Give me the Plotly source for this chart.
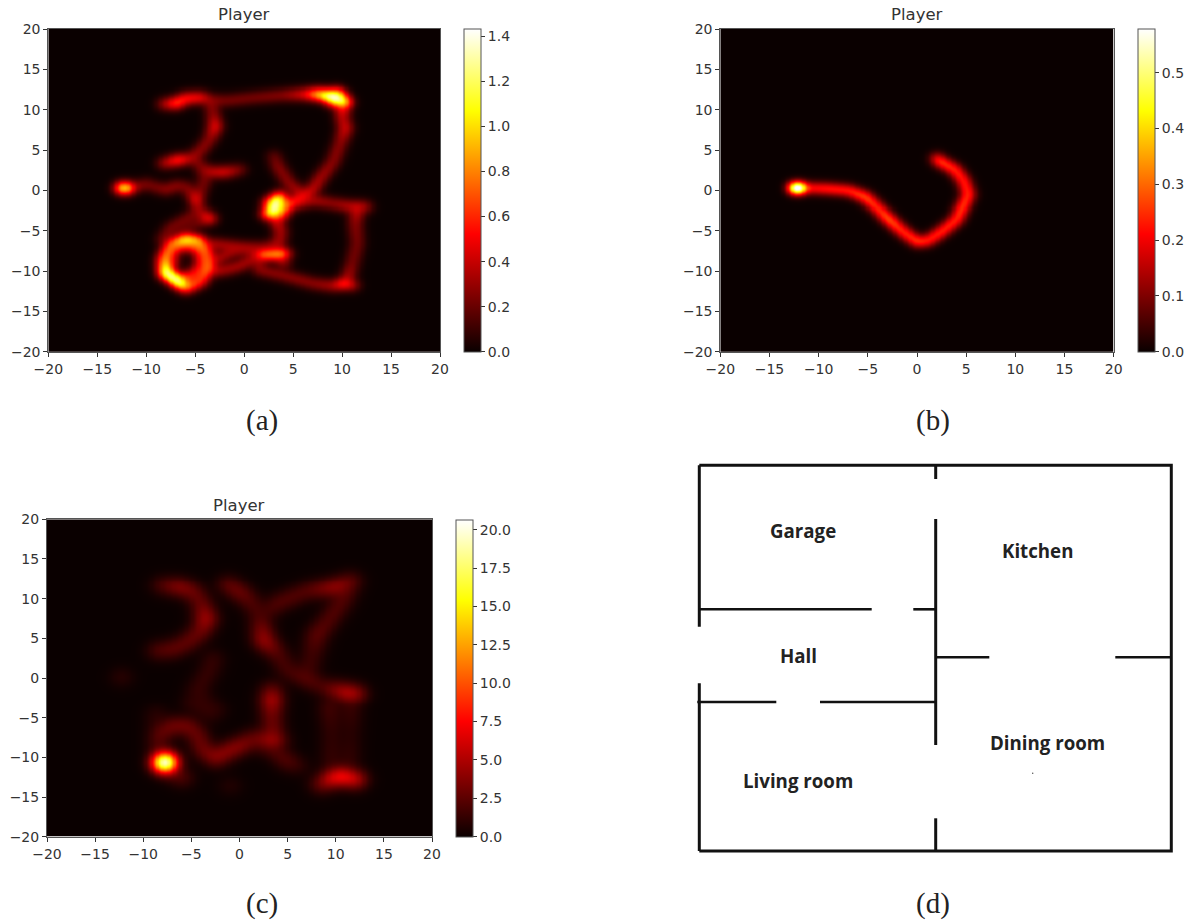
import numpy as np
import plotly.graph_objects as go

W, H = 1198, 923
TICKS = [-20, -15, -10, -5, 0, 5, 10, 15, 20]
TITLE = "Player"
CAPTIONS = ["(a)", "(b)", "(c)", "(d)"]
ZMAX_A, ZMAX_B, ZMAX_C = 1.434, 0.579, 20.65
CBAR_TICKS_A = [0.0, 0.2, 0.4, 0.6, 0.8, 1.0, 1.2, 1.4]
CBAR_TICKS_B = [0.0, 0.1, 0.2, 0.3, 0.4, 0.5]
CBAR_TICKS_C = [0.0, 2.5, 5.0, 7.5, 10.0, 12.5, 15.0, 17.5, 20.0]

# Each track: (x, y, density) read along the ridges of the picture
TRACKS_A = [
    [(-8.2,10.8,.3),(-7,10.9,.62),(-6,11.5,.5),(-4.5,11.6,.45),(-3.5,11.3,.25),(-2,11.2,.21),(1,11.6,.21),(4,11.9,.24),(6,12,.4),(7.5,12,.85),(9,11.7,1.38),(10,11.2,1.1)],
    [(8,11.9,.75),(9.5,12,.95),(10.2,11,1.0),(9,11.2,.85)],
    [(10,11.2,.6),(10,9,.34),(10.3,7.8,.4),(9.8,6,.25),(9,3.5,.25),(7.7,1.5,.3),(7,0.2,.34),(6,-0.7,.45),(4.5,-1.8,.55),(3,-2.4,1.1)],
    [(3,4.3,.17),(3.4,3,.24),(4.5,1,.25),(5.8,-.5,.34)],
    [(-3.5,11.3,.25),(-3.2,9.5,.25),(-3,8,.45),(-3.5,6.5,.25),(-4.5,5,.25),(-5.5,4,.3),(-6.8,3.8,.55),(-8.2,3.4,.3)],
    [(-5,3.8,.25),(-4.5,3,.21),(-3.5,2.3,.34),(-2,2.3,.4),(-.5,2.6,.21)],
    [(-4.5,3,.21),(-4,1.5,.21),(-4.5,0,.21),(-5,-1,.45),(-4.7,-2.5,.25),(-3.6,-3.4,.5)],
    [(-12.5,.3,1.0),(-12,.3,1.0)],
    [(-12,.3,.45),(-11,.5,.25),(-10,.8,.21),(-9,.4,.21),(-8,.1,.25),(-7,.6,.25),(-6,.5,.21),(-5,-1,.34)],
    [(-4.7,-2.5,.21),(-6,-3.5,.21),(-7.5,-4.5,.21),(-8.3,-6,.21)],
    [(-3.6,-3.4,.34),(-5,-4,.17),(-7,-5.5,.17)],
    [(-6,-6,1.0),(-7.5,-6.6,.65),(-8.2,-8.5,.75),(-8,-10.2,1.25),(-6.5,-11.5,1.2),(-6,-12,.7),(-4.5,-11.2,.55),(-3.7,-9.5,.7),(-3.8,-7.8,.6),(-4.7,-6.2,.8),(-6,-6,1.0)],
    [(-7.5,-9,.45),(-7.5,-7.4,.5),(-6,-6.6,.6),(-4.5,-7.3,.55),(-4.4,-9.2,.45),(-5.3,-10.6,.5),(-6.5,-10.8,.6)],
    [(-4.5,-6.5,.34),(-3,-6.6,.3),(0,-7,.3),(2,-7,.25)],
    [(-3.2,-8.8,.3),(-1.5,-7.6,.3),(0,-7.3,.25),(1.3,-7.8,.34)],
    [(-3.5,-10,.34),(-2,-9.8,.3),(-.5,-9.3,.3),(.7,-8.5,.3),(2,-8,.34)],
    [(1.8,-7.9,.7),(3.8,-7.8,.8),(4.2,-7.8,.4)],
    [(2,-7,.25),(3.5,-6.5,.3),(3.7,-5,.3),(3.2,-3.5,.4),(2.8,-2.5,1.25),(3.3,-1.2,1.2)],
    [(2.4,-2.8,.8),(3.6,-3,.65),(4.2,-2,.7),(3.6,-.8,.75),(2.6,-1.6,.8)],
    [(3.6,-8,.45),(4,-9,.25)],
    [(1.5,-8,.3),(1.5,-9.8,.25),(4,-10.5,.25),(7,-11.5,.25),(9,-11.8,.3),(10.2,-11.5,.6),(11,-11.7,.34)],
    [(11.5,-2,.4),(11.3,-4,.25),(11.5,-6.5,.21),(11,-9,.21),(10.4,-11.3,.34)],
    [(4.5,-1.8,.34),(7,-1.2,.3),(9,-1.6,.25),(11,-2,.34),(12.3,-2,.3)],
]
TRACKS_B = [
    [(-12.4,.3,.7),(-12,.3,.7)],
    [(-12,.3,.3),(-11,.3,.2),(-9,.2,.22),(-7,0,.22),(-5.3,-.8,.26),(-4,-2.2,.23),(-3,-3.4,.27),(-1.5,-5,.23),(0,-6.3,.24),(1,-6.2,.22),(2.5,-5,.23),(4,-3.5,.23),(4.5,-2.2,.25),(5.2,-.5,.23),(4.7,1.2,.22),(3.8,2.6,.23),(2.2,3.7,.25),(2,4,.2)],
]
TRACKS_C = [
    [(-8.5,3.5,2),(-7,3.7,2.4),(-5.5,4.5,2.4),(-4,6,2.8),(-3.5,7.5,4.5),(-4,9.5,2.4),(-5,11,2.8),(-6.3,11.5,3.6),(-8,11.7,2)],
    [(-1.2,11.8,2.4),(0,10.8,2.8),(1,9.8,2),(2,8,1.6),(2.5,4.8,4.2),(4,3,1.8),(5,1,1.6),(7,0,2.2),(8.5,-1,1.6),(11.3,-1.8,5.2),(12,-1.9,4.2)],
    [(3,8.5,1.6),(4,9.5,2),(7,11,2),(10,11.5,4),(11.5,12.3,2.4),(10.5,9.5,2),(9,7,2),(8,5.5,2.4),(7.5,3,1.4),(6.8,0,1.6)],
    [(-2.8,2.5,1.2),(-3.2,1,1.2),(-4.5,-1.5,1.2),(-3.5,-3,1),(-2.5,-4,1)],
    [(-8.5,-8,1.2),(-8.7,-4.5,.9)],
    [(-5,-3,1.1),(-3,-4.5,1.1)],
    [(-12.3,.2,1)],
    [(-8.5,-9,1.6),(-8.3,-7,2.4),(-7,-6,2.9),(-5.5,-6,2.9),(-4.5,-7,2.6),(-3.8,-9,2.8),(-2.5,-10,3.6),(-1,-9,3.6),(0,-8.5,3.5),(1.5,-7.5,2.4),(3.5,-7.8,4.5),(4,-7.8,2.4)],
    [(3.5,-7.8,3.2),(3.3,-5,2.6),(3.3,-2.5,4.8),(3.3,-1.5,2.8)],
    [(-7.8,-10.6,25)],
    [(-6,-12.5,2),(-7.5,-11.5,2.4)],
    [(1.5,-8,2),(3.5,-9,1.8),(5,-10.5,2),(6,-11,1.2)],
    [(8.5,-13.3,3),(9.5,-12.6,6),(10.5,-12.3,7.5),(12,-12.7,5.5)],
    [(9.3,-3.5,1.6),(9.5,-7,1),(9.5,-11,1.2)],
    [(11.5,-2,1.6),(11.5,-7,.8),(11.3,-11,1.2)],
    [(-1,-13.5,.8)],
]

# Floor plan walls, in plan units
WALL_OUTER_X = [0, 472, 472, 0]
WALL_OUTER_Y = [0, 0, 385.7, 385.7]
WALL_LEFT_X = [0, 0, None, 0, 0]
WALL_LEFT_Y = [0, 161.4, None, 218, 385.7]
WALL_MID_X = [236.4, 236.4, None, 236.4, 236.4, None, 236.4, 236.4]
WALL_MID_Y = [0, 13.7, None, 53.7, 279.7, None, 353, 385.7]
WALL_GARAGE_X = [0, 172.4, None, 214, 236.4]
WALL_GARAGE_Y = [144, 144, None, 144, 144]
WALL_KITCHEN_X = [236.4, 290, None, 416, 472]
WALL_KITCHEN_Y = [192, 192, None, 192, 192]
WALL_HALL_X = [-2, 77, None, 120.7, 236.4]
WALL_HALL_Y = [236.7, 236.7, None, 236.7, 236.7]
ROOMS = ["Garage", "Kitchen", "Hall", "Dining room", "Living room"]
ROOM_X = [103.4, 337.7, 98.7, 348.4, 98.7]
ROOM_Y = [64.7, 84.7, 190.4, 277.4, 314.7]
SPECK_X = [333.4]
SPECK_Y = [308]

HOT = [[0, "#0a0000"], [0.365, "#ff0000"], [0.746, "#ffff00"], [1, "#ffffff"]]
INK = "#333333"
SPINE = "#555555"


def px_x(p):
    return p / W


def px_y(p):
    return 1 - p / H


def blur(z, step, s):
    r = int(4 * s / step)
    k = np.exp(-(np.arange(-r, r + 1) * step) ** 2 / (2 * s ** 2))
    k /= k.sum()
    z = np.apply_along_axis(lambda v: np.convolve(v, k, mode="same"), 0, z)
    return np.apply_along_axis(lambda v: np.convolve(v, k, mode="same"), 1, z)


def field(tracks, sigma, soft):
    g = np.linspace(-20, 20, 321)
    X, Y = np.meshgrid(g, g)
    z = np.zeros_like(X)
    for tr in tracks:
        pts = tr if len(tr) > 1 else tr * 2
        for (x0, y0, a0), (x1, y1, a1) in zip(pts[:-1], pts[1:]):
            dx, dy = x1 - x0, y1 - y0
            L2 = dx * dx + dy * dy
            t = np.zeros_like(X) if L2 == 0 else np.clip(((X - x0) * dx + (Y - y0) * dy) / L2, 0, 1)
            d2 = (X - x0 - t * dx) ** 2 + (Y - y0 - t * dy) ** 2
            z = np.maximum(z, (a0 + t * (a1 - a0)) * np.exp(-d2 / (2 * sigma ** 2)))
    z = blur(z, g[1] - g[0], soft) * np.sqrt(1 + (soft / sigma) ** 2)
    return g, np.round(z, 4)


PANELS = [
    dict(tracks=TRACKS_A, sigma=0.48, soft=0.42, zmax=ZMAX_A, ticks=CBAR_TICKS_A, box=(48.3, 440, 29, 351.7), bar=464.3, title_x=244, title_y=15),
    dict(tracks=TRACKS_B, sigma=0.42, soft=0.42, zmax=ZMAX_B, ticks=CBAR_TICKS_B, box=(720.3, 1113.7, 29, 351.7), bar=1138.3, title_x=917, title_y=15),
    dict(tracks=TRACKS_C, sigma=0.72, soft=0.6, zmax=ZMAX_C, ticks=CBAR_TICKS_C, box=(47, 432, 519.3, 836.7), bar=455.7, title_x=239, title_y=505),
]

fig = go.Figure()
layout = dict(width=W, height=H, margin=dict(l=0, r=0, t=0, b=0, autoexpand=False), autosize=False,
              paper_bgcolor="white", plot_bgcolor="white", showlegend=False)
annotations = []
tick_font = dict(family="DejaVu Sans", size=14, color=INK)

for i, p in enumerate(PANELS, start=1):
    g, z = field(p["tracks"], p["sigma"], p["soft"])
    l, r, t, b = p["box"]
    fig.add_trace(go.Heatmap(
        x=g, y=g, z=z, zmin=0, zmax=p["zmax"], colorscale=HOT, zsmooth="best",
        xaxis=f"x{i}", yaxis=f"y{i}", hoverinfo="skip",
        colorbar=dict(
            x=px_x(p["bar"]), xanchor="left", xpad=0, ypad=0,
            y=px_y(b), yanchor="bottom", lenmode="pixels", len=b - t,
            thicknessmode="pixels", thickness=16.7,
            outlinecolor=SPINE, outlinewidth=1, tickmode="array", tickvals=p["ticks"],
            ticktext=[format(v, ".1f") for v in p["ticks"]],
            ticks="outside", ticklen=4, tickwidth=1, tickcolor=INK,
            tickfont=tick_font,
        ),
    ))
    axis = dict(range=[-20, 20], tickmode="array", tickvals=TICKS, ticks="outside", ticklen=4,
                tickwidth=1, tickcolor=INK, showgrid=False, zeroline=False, showline=True,
                linecolor=SPINE, linewidth=1, mirror=True, tickfont=tick_font)
    layout[f"xaxis{i}"] = dict(axis, domain=[px_x(l), px_x(r)], anchor=f"y{i}")
    layout[f"yaxis{i}"] = dict(axis, domain=[px_y(b), px_y(t)], anchor=f"x{i}")
    annotations.append(dict(text=TITLE, x=px_x(p["title_x"]), y=px_y(p["title_y"]), xref="paper", yref="paper",
                            showarrow=False, xanchor="center", yanchor="middle",
                            font=dict(family="DejaVu Sans", size=16.5, color=INK)))

# Floor plan
PLAN_L, PLAN_T = 699.3, 465.3
plan_style = dict(mode="lines", xaxis="x4", yaxis="y4", hoverinfo="skip", connectgaps=False)
for xs, ys, lw in [(WALL_OUTER_X, WALL_OUTER_Y, 3), (WALL_LEFT_X, WALL_LEFT_Y, 3), (WALL_MID_X, WALL_MID_Y, 3),
                   (WALL_GARAGE_X, WALL_GARAGE_Y, 2.6), (WALL_KITCHEN_X, WALL_KITCHEN_Y, 2.4), (WALL_HALL_X, WALL_HALL_Y, 2.6)]:
    fig.add_trace(go.Scatter(x=xs, y=ys, line=dict(color="#111111", width=lw), **plan_style))
fig.add_trace(go.Scatter(x=SPECK_X, y=SPECK_Y, mode="markers", marker=dict(size=1.5, color="#555555"),
                         xaxis="x4", yaxis="y4", hoverinfo="skip"))
PAD = 10
layout["xaxis4"] = dict(domain=[px_x(PLAN_L - PAD), px_x(PLAN_L + 472 + PAD)], range=[-PAD, 472 + PAD],
                        visible=False, anchor="y4")
layout["yaxis4"] = dict(domain=[px_y(PLAN_T + 385.7 + PAD), px_y(PLAN_T - PAD)], range=[385.7 + PAD, -PAD],
                        visible=False, anchor="x4")
for name, x, y in zip(ROOMS, ROOM_X, ROOM_Y):
    annotations.append(dict(text=f"<b>{name}</b>", x=x, y=y, xref="x4", yref="y4", showarrow=False,
                            xanchor="center", yanchor="middle",
                            font=dict(family="Open Sans", size=18.7, color="#222222")))

CAPTION_X = [262, 933, 262, 933]
CAPTION_Y = [420, 420, 903, 903]
for text, x, y in zip(CAPTIONS, CAPTION_X, CAPTION_Y):
    annotations.append(dict(text=text, x=px_x(x), y=px_y(y), xref="paper", yref="paper", showarrow=False,
                            xanchor="center", yanchor="middle",
                            font=dict(family="Liberation Serif", size=29, color="#222222")))

layout["annotations"] = annotations
fig.update_layout(**layout)
fig.write_html("out.html", config={"displayModeBar": False},
               post_script="document.body.style.margin='0';document.body.style.overflow='hidden';")
